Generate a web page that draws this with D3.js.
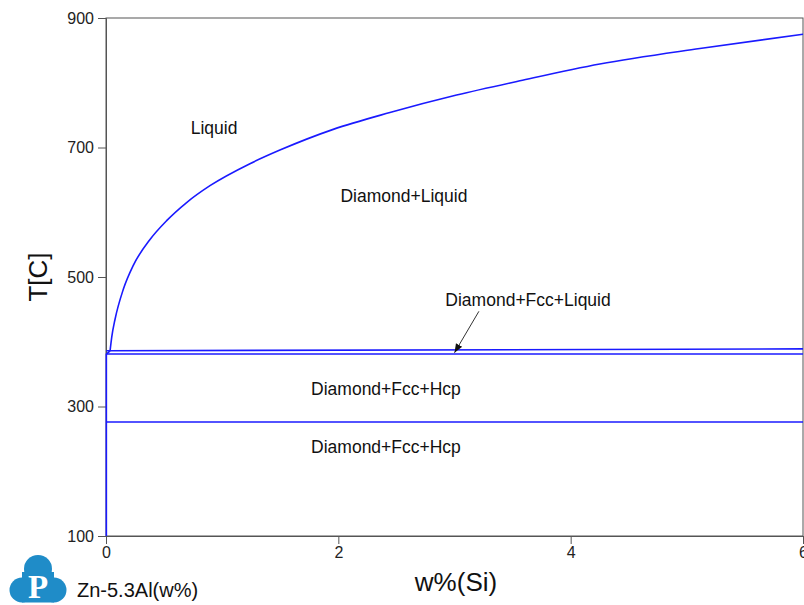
<!DOCTYPE html>
<html>
<head>
<meta charset="utf-8">
<script src="https://cdn.jsdelivr.net/npm/d3@7"></script>
<style>
  body { margin: 0; background: #fff; }
  svg text { font-family: "Liberation Sans", Arial, sans-serif; }
</style>
</head>
<body>
<div id="chart"></div>
<script>
// phase boundary data, w%(Si) vs T[C]
const liquidus = [
    [0.035, 386], [0.05, 408], [0.077, 434], [0.149, 481], [0.235, 518],
    [0.379, 558], [0.522, 587], [0.694, 615], [0.895, 641], [1.239, 675],
    [1.497, 696], [1.956, 728], [2.444, 754], [3.018, 781], [3.563, 803],
    [4.251, 829], [5.112, 853], [6, 875]
];
const upperLine = [[0.003, 386], [6, 389]];
const lowerLine = [[0.003, 381], [6, 381]];
const eutectoid = [[0.003, 276], [6, 276]];
const solvus = [[0.003, 100], [0.003, 381], [0.035, 386]];

const xTicks = [0, 2, 4, 6];
const yTicks = [100, 300, 500, 700, 900];

const labels = [
    {text: "Liquid", w: 0.93, t: 730},
    {text: "Diamond+Liquid", w: 2.565, t: 625},
    {text: "Diamond+Fcc+Liquid", w: 3.633, t: 465},
    {text: "Diamond+Fcc+Hcp", w: 2.41, t: 327},
    {text: "Diamond+Fcc+Hcp", w: 2.41, t: 237}
];
const arrow = {from: [3.21, 447], to: [3.0, 383]};

const margin = {top: 18, left: 106, right: 1, bottom: 69};
const width = 804 - margin.left - margin.right;
const height = 605 - margin.top - margin.bottom;

const svg = d3.select("#chart").append("svg")
    .attr("width", 804)
    .attr("height", 605);

const g = svg.append("g")
    .attr("transform", `translate(${margin.left},${margin.top})`);

const x = d3.scaleLinear().domain([0, 6]).range([0, width]);
const y = d3.scaleLinear().domain([100, 900]).range([height, 0]);

// frame
g.append("rect")
    .attr("width", width).attr("height", height)
    .attr("fill", "none").attr("stroke", "#555").attr("stroke-width", 1);

// axes
const xAxis = g.append("g")
    .attr("transform", `translate(0,${height})`)
    .call(d3.axisBottom(x).tickValues(xTicks).tickFormat(d3.format("d"))
        .tickSizeOuter(0).tickSize(8).tickPadding(3));
const yAxis = g.append("g")
    .call(d3.axisLeft(y).tickValues(yTicks).tickFormat(d3.format("d"))
        .tickSizeOuter(0).tickSize(8).tickPadding(4));

[xAxis, yAxis].forEach(a => {
    a.selectAll("path").attr("stroke", "#555");
    a.selectAll("line").attr("stroke", "#555");
    a.selectAll("text").attr("fill", "#222").style("font-size", "16px")
        .style("font-family", "'Liberation Sans', Arial, sans-serif");
});

// axis titles
svg.append("text")
    .attr("x", 456).attr("y", 591)
    .attr("text-anchor", "middle")
    .style("font-size", "26px").attr("fill", "#111")
    .text("w%(Si)");
svg.append("text")
    .attr("transform", "translate(47,277) rotate(-90)")
    .attr("text-anchor", "middle")
    .style("font-size", "26px").attr("fill", "#111")
    .text("T[C]");

// phase boundaries
const line = d3.line().x(d => x(d[0])).y(d => y(d[1]));
const curve = d3.line().x(d => x(d[0])).y(d => y(d[1])).curve(d3.curveMonotoneX);

g.append("path").datum(liquidus).attr("d", curve)
    .attr("fill", "none").attr("stroke", "#1a1aff").attr("stroke-width", 1.6);
[upperLine, lowerLine, eutectoid, solvus].forEach(d => {
    g.append("path").datum(d).attr("d", line)
        .attr("fill", "none").attr("stroke", "#1a1aff").attr("stroke-width", 1.6);
});

// phase labels
g.selectAll(".phase").data(labels).enter()
    .append("text")
    .attr("class", "phase")
    .attr("x", d => x(d.w)).attr("y", d => y(d.t))
    .attr("text-anchor", "middle")
    .attr("dy", "0.35em")
    .style("font-size", "17.5px").attr("fill", "#111")
    .text(d => d.text);

// arrow
svg.append("defs").append("marker")
    .attr("id", "head")
    .attr("viewBox", "0 0 10 10")
    .attr("refX", 10).attr("refY", 5)
    .attr("markerWidth", 9).attr("markerHeight", 9)
    .attr("orient", "auto")
    .append("path").attr("d", "M0,1 L10,5 L0,9 z").attr("fill", "#111");
g.append("line")
    .attr("x1", x(arrow.from[0])).attr("y1", y(arrow.from[1]))
    .attr("x2", x(arrow.to[0])).attr("y2", y(arrow.to[1]))
    .attr("stroke", "#333").attr("stroke-width", 1)
    .attr("marker-end", "url(#head)");

// logo
const logo = svg.append("g").attr("fill", "#1f8cc8");
logo.append("circle").attr("cx", 38).attr("cy", 569).attr("r", 14);
logo.append("circle").attr("cx", 22).attr("cy", 590).attr("r", 12.5);
logo.append("circle").attr("cx", 54).attr("cy", 590).attr("r", 12.5);
logo.append("rect").attr("x", 22).attr("y", 572).attr("width", 32).attr("height", 30.5);
svg.append("text")
    .attr("x", 38).attr("y", 598)
    .attr("text-anchor", "middle")
    .style("font-family", "'Liberation Serif', 'DejaVu Serif', serif")
    .style("font-weight", "bold").style("font-size", "33px")
    .attr("fill", "#fff")
    .text("P");

svg.append("text")
    .attr("x", 77).attr("y", 597)
    .style("font-size", "20px").attr("fill", "#111")
    .text("Zn-5.3Al(w%)");
</script>
</body>
</html>
